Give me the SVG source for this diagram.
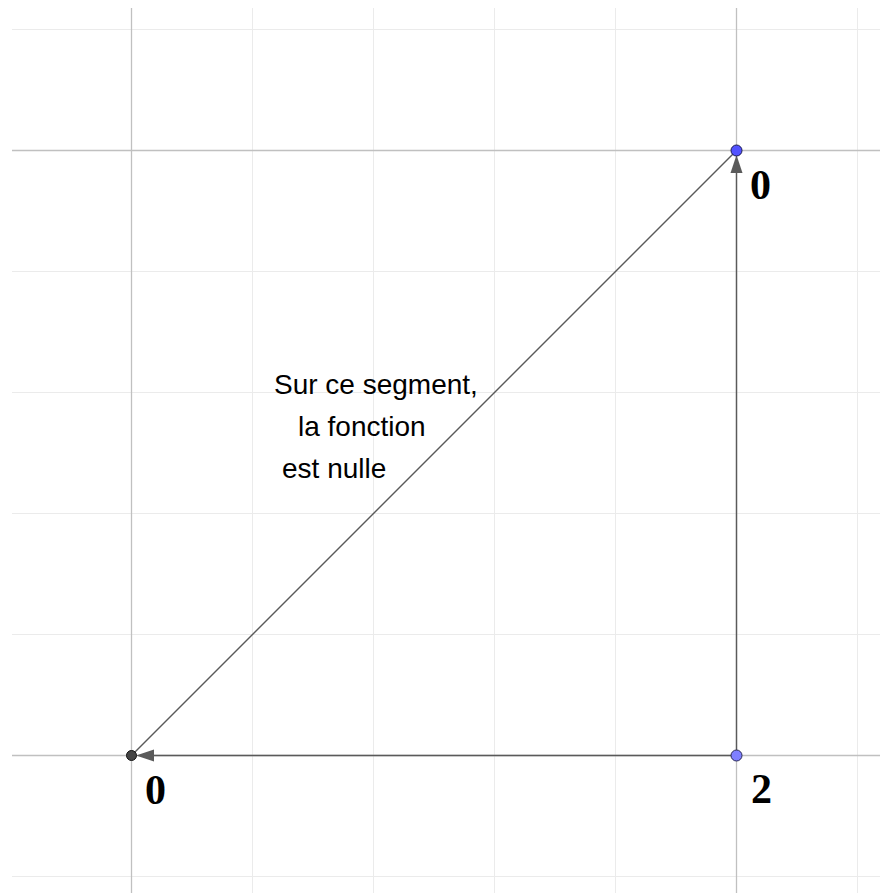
<svg xmlns="http://www.w3.org/2000/svg" width="880" height="893" viewBox="0 0 880 893">
<style>
.minor{stroke:#ebebeb;stroke-width:1}
.major{stroke:#c0c0c0;stroke-width:1.3}
.seg{stroke:#5a5a5a;stroke-width:1.4;fill:none}
.head{fill:#5a5a5a}
.lbl{font-family:"Liberation Serif",serif;font-weight:bold;font-size:42px;fill:#000}
.txt{font-family:"Liberation Sans",Arial,sans-serif;font-size:22px;fill:#000}
</style>
<rect width="880" height="893" fill="#fff"/>
<g id="grid">
<line class="minor" x1="252.5" y1="8" x2="252.5" y2="893"/>
<line class="minor" x1="373.5" y1="8" x2="373.5" y2="893"/>
<line class="minor" x1="494.5" y1="8" x2="494.5" y2="893"/>
<line class="minor" x1="615.5" y1="8" x2="615.5" y2="893"/>
<line class="minor" x1="857.5" y1="8" x2="857.5" y2="893"/>
<line class="minor" x1="12" y1="29.5" x2="880" y2="29.5"/>
<line class="minor" x1="12" y1="271.5" x2="880" y2="271.5"/>
<line class="minor" x1="12" y1="392.5" x2="880" y2="392.5"/>
<line class="minor" x1="12" y1="513.5" x2="880" y2="513.5"/>
<line class="minor" x1="12" y1="634.5" x2="880" y2="634.5"/>
<line class="minor" x1="12" y1="876.5" x2="880" y2="876.5"/>
<line class="major" x1="131.5" y1="8" x2="131.5" y2="893"/>
<line class="major" x1="736.5" y1="8" x2="736.5" y2="893"/>
<line class="major" x1="12" y1="150.5" x2="880" y2="150.5"/>
<line class="major" x1="12" y1="755.5" x2="880" y2="755.5"/>
</g>
<g id="connectors">
<line class="seg" x1="131.5" y1="755.5" x2="736.5" y2="150.5"/>
<line class="seg" x1="736.5" y1="755.5" x2="150" y2="755.5"/>
<polygon class="head" points="136,755.5 154,749.5 154,761.5"/>
<line class="seg" x1="736.5" y1="755.5" x2="736.5" y2="170"/>
<polygon class="head" points="736.5,155 730.5,173 742.5,173"/>
</g>
<g id="point-origin">
<circle cx="131.5" cy="755.5" r="5" fill="#444" stroke="#111" stroke-width="1"/>
<text class="lbl" x="145" y="804">0</text>
</g>
<g id="point-top">
<circle cx="736.5" cy="150.5" r="5.5" fill="#5252ff" stroke="#1a1a4d" stroke-width="1"/>
<text class="lbl" x="750" y="199">0</text>
</g>
<g id="point-right">
<circle cx="736.5" cy="755.5" r="5.5" fill="#7f7fff" stroke="#2a2a55" stroke-width="1"/>
<text class="lbl" x="751" y="803">2</text>
</g>
<g id="note">
<text class="txt" x="274" y="394" font-size="28" style="font-size:28px">Sur ce segment,</text>
<text class="txt" x="298" y="436" style="font-size:28px">la fonction</text>
<text class="txt" x="282" y="478" style="font-size:28px">est nulle</text>
</g>
</svg>
